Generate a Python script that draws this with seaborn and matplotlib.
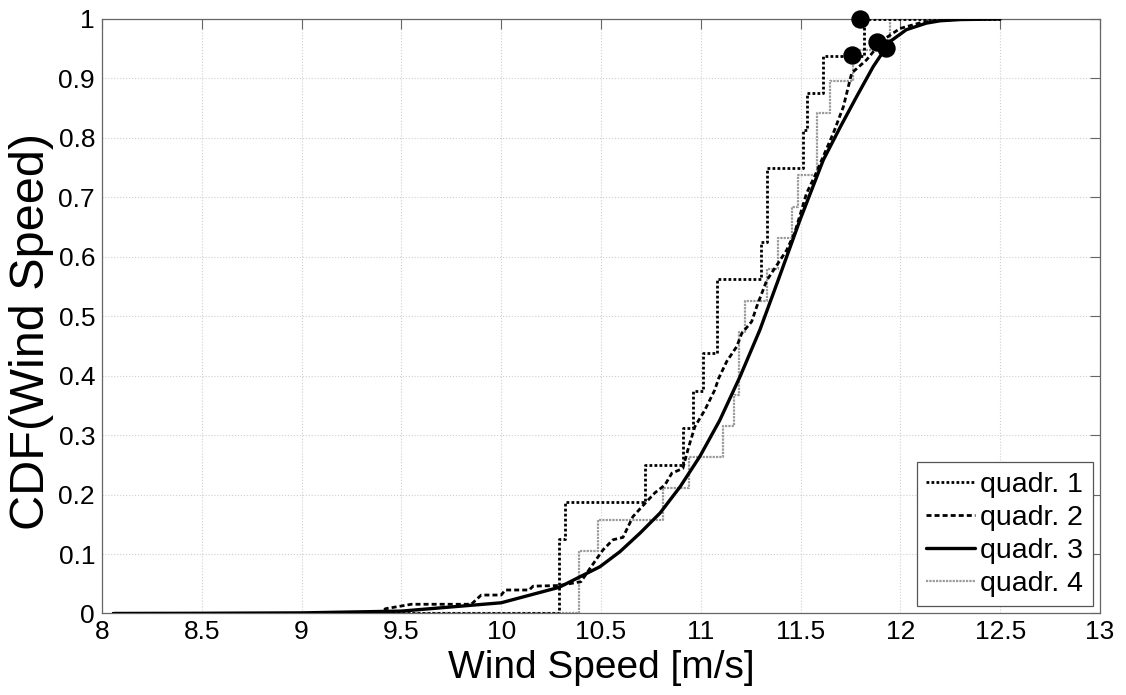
import matplotlib
matplotlib.use("Agg")
import matplotlib.pyplot as plt
import seaborn as sns

q1_x = [8.05, 10.29, 10.32, 10.72, 10.91, 10.96, 11.01, 11.08, 11.30, 11.33,
        11.51, 11.53, 11.61, 11.82, 12.5]
q1_y = [0.0, 0.125, 0.1875, 0.25, 0.3125, 0.375, 0.4375, 0.5625, 0.625, 0.75,
        0.8125, 0.875, 0.9375, 1.0, 1.0]

q2_x = [8.05, 9.40, 9.42, 9.55, 9.85, 9.90, 10.00, 10.02, 10.14, 10.16, 10.29,
        10.40, 10.445, 10.51, 10.56, 10.61, 10.66, 10.72, 10.77, 10.82, 10.855,
        10.91, 10.94, 10.97, 11.02, 11.07, 11.09, 11.13, 11.18, 11.205, 11.255,
        11.28, 11.33, 11.43, 11.47, 11.505, 11.53, 11.57, 11.664, 11.714,
        11.756, 11.83, 11.914, 11.998, 12.115, 12.3]
q2_y = [0.0, 0.0, 0.008, 0.0155, 0.0155, 0.031, 0.031, 0.0395, 0.0395, 0.046,
        0.047, 0.0535, 0.076, 0.107, 0.124, 0.128, 0.163, 0.185, 0.203, 0.216,
        0.236, 0.244, 0.281, 0.314, 0.342, 0.376, 0.396, 0.424, 0.449, 0.471,
        0.491, 0.516, 0.56, 0.611, 0.64, 0.679, 0.707, 0.735, 0.808, 0.852,
        0.909, 0.931, 0.965, 0.984, 0.995, 1.0]

q3_x = [8.06, 8.5, 9.0, 9.5, 10.0, 10.29, 10.495, 10.595, 10.695, 10.796,
        10.896, 10.995, 11.095, 11.196, 11.296, 11.388, 11.497, 11.614, 11.70,
        11.78, 11.864, 11.948, 12.03, 12.13, 12.2, 12.3, 12.5]
q3_y = [0.0, 0.0003, 0.001, 0.004, 0.018, 0.044, 0.0787, 0.104, 0.135, 0.169,
        0.213, 0.264, 0.325, 0.398, 0.477, 0.561, 0.662, 0.763, 0.819, 0.869,
        0.92, 0.962, 0.982, 0.993, 0.997, 0.999, 1.0]

q4_x = [8.05, 10.39, 10.487, 10.81, 10.94, 11.11, 11.166, 11.19, 11.22, 11.333,
        11.385, 11.455, 11.488, 11.58, 11.647, 11.764, 11.95, 12.5]
q4_y = [0.0, 0.105, 0.158, 0.211, 0.263, 0.316, 0.368, 0.474, 0.526, 0.579,
        0.632, 0.684, 0.737, 0.842, 0.895, 0.947, 1.0, 1.0]

# markers near the top
dot_x = [11.797, 11.756, 11.881, 11.928]
dot_y = [1.0, 0.939, 0.962, 0.951]

labels = ["quadr. 1", "quadr. 2", "quadr. 3", "quadr. 4"]
x_ticks = [8, 8.5, 9, 9.5, 10, 10.5, 11, 11.5, 12, 12.5, 13]
x_tick_labels = ["8", "8.5", "9", "9.5", "10", "10.5", "11", "11.5", "12", "12.5", "13"]
y_ticks = [0, 0.1, 0.2, 0.3, 0.4, 0.5, 0.6, 0.7, 0.8, 0.9, 1]
y_tick_labels = ["0", "0.1", "0.2", "0.3", "0.4", "0.5", "0.6", "0.7", "0.8", "0.9", "1"]

sns.set_style("white")
plt.rcParams["font.family"] = ["Liberation Sans", "DejaVu Sans"]
plt.rcParams["text.color"] = "black"
plt.rcParams["axes.labelcolor"] = "black"

fig = plt.figure(figsize=(11.26, 6.95), dpi=100)
ax = fig.add_axes([0.0906, 0.1173, 0.8863, 0.8554])

sns.lineplot(x=q1_x, y=q1_y, ax=ax, drawstyle="steps-post", estimator=None,
             color="black", linewidth=2.0, linestyle=(0, (1.0, 0.8)),
             label=labels[0], zorder=3)
sns.lineplot(x=q2_x, y=q2_y, ax=ax, estimator=None,
             color="black", linewidth=2.0, linestyle=(0, (1.8, 1.1)),
             label=labels[1], zorder=3)
sns.lineplot(x=q3_x, y=q3_y, ax=ax, estimator=None,
             color="black", linewidth=2.4, linestyle="-",
             label=labels[2], zorder=3)
sns.lineplot(x=q4_x, y=q4_y, ax=ax, drawstyle="steps-post", estimator=None,
             color="#9a9a9a", linewidth=1.6, linestyle=(0, (1.0, 0.5)),
             label=labels[3], zorder=2)
sns.scatterplot(x=dot_x, y=dot_y, ax=ax, color="black", s=150,
                edgecolor="black", zorder=5, clip_on=False, legend=False)

ax.set_xlim(8, 13)
ax.set_ylim(0, 1)
ax.set_xticks(x_ticks)
ax.set_xticklabels(x_tick_labels)
ax.set_yticks(y_ticks)
ax.set_yticklabels(y_tick_labels)
ax.tick_params(direction="in", length=7, width=0.8, color="#666666",
               labelcolor="black", top=True, right=True, labelsize=19, pad=5)
ax.grid(True, linestyle=":", color="#cfcfcf", linewidth=0.8)
for sp in ax.spines.values():
    sp.set_color("#666666")
    sp.set_linewidth(0.9)

ax.set_xlabel("Wind Speed [m/s]", fontsize=28, labelpad=4)
ax.set_ylabel("CDF(Wind Speed)", fontsize=35, labelpad=3)
ax.yaxis.label.set_y(0.475)

leg = ax.legend(loc="lower right", fontsize=20.5, handlelength=1.7,
                handletextpad=0.2, labelspacing=0.25, borderpad=0.33,
                borderaxespad=0.25, fancybox=False, framealpha=1,
                edgecolor="#555555")
leg.get_frame().set_linewidth(0.9)

plt.savefig("out.png", dpi=100)
